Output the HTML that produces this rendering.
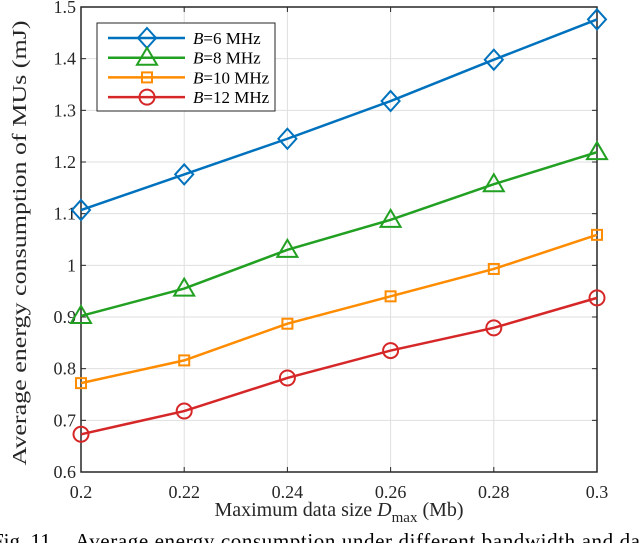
<!DOCTYPE html>
<html><head><meta charset="utf-8"><style>
body{margin:0;background:#fff;width:640px;height:543px;overflow:hidden}
svg{font-family:"Liberation Serif",serif}
</style></head><body>
<svg id="chart" width="640" height="543"></svg>
<script>
const xTicks=[0.2,0.22,0.24,0.26,0.28,0.3];
const xTickLabels=["0.2","0.22","0.24","0.26","0.28","0.3"];
const yTicks=[0.6,0.7,0.8,0.9,1.0,1.1,1.2,1.3,1.4,1.5];
const yTickLabels=["0.6","0.7","0.8","0.9","1","1.1","1.2","1.3","1.4","1.5"];
const xValues=[0.2,0.22,0.24,0.26,0.28,0.3];
const seriesB6=[1.107,1.176,1.245,1.318,1.398,1.476];
const seriesB8=[0.902,0.955,1.030,1.088,1.157,1.219];
const seriesB10=[0.772,0.816,0.887,0.940,0.993,1.059];
const seriesB12=[0.673,0.718,0.782,0.835,0.879,0.937];
const seriesNames=["B=6 MHz","B=8 MHz","B=10 MHz","B=12 MHz"];

const NS="http://www.w3.org/2000/svg";
const svg=document.getElementById('chart');
const L=81,R=597,T=7,B=472;
const xs=v=>L+(v-0.2)/(0.1)*(R-L);
const ys=v=>B-(v-0.6)/(0.9)*(B-T);
function mk(tag,at,parent){const e=document.createElementNS(NS,tag);for(const k in at)e.setAttribute(k,at[k]);(parent||svg).appendChild(e);return e;}

xTicks.forEach((v,i)=>{
 const g=mk('line',{x1:xs(v),x2:xs(v),y1:T,y2:B,stroke:'#dfdfdf','stroke-width':1});
 
 
 const t=mk('text',{x:xs(v),y:B+26,'text-anchor':'middle','font-size':18,fill:'#262626'});
 t.textContent=xTickLabels[i];
 
 
 mk('line',{x1:xs(v),x2:xs(v),y1:B,y2:B-5,stroke:'#262626'});
 mk('line',{x1:xs(v),x2:xs(v),y1:T,y2:T+5,stroke:'#262626'});
});
yTicks.forEach((v,i)=>{
 const g=mk('line',{x1:L,x2:R,y1:ys(v),y2:ys(v),stroke:'#dfdfdf','stroke-width':1});
 
 
 const t=mk('text',{x:L-5,y:ys(v)+6,'text-anchor':'end','font-size':18,fill:'#262626'});
 t.textContent=yTickLabels[i];
 
 
 mk('line',{x1:L,x2:L+5,y1:ys(v),y2:ys(v),stroke:'#262626'});
 mk('line',{x1:R,x2:R-5,y1:ys(v),y2:ys(v),stroke:'#262626'});
});
const frame=mk('rect',{x:L,y:T,width:R-L,height:B-T,fill:'none',stroke:'#262626','stroke-width':1.5});



function marker(type,x,y,c,p){
 if(type==='d') return mk('polygon',{points:`${x},${y-10} ${x+9},${y} ${x},${y+10} ${x-9},${y}`,fill:'none',stroke:c,'stroke-width':2},p);
 if(type==='t') return mk('polygon',{points:`${x},${y-10} ${x+10},${y+7} ${x-10},${y+7}`,fill:'none',stroke:c,'stroke-width':2},p);
 if(type==='s') return mk('rect',{x:x-5,y:y-5,width:10,height:10,fill:'none',stroke:c,'stroke-width':2},p);
 return mk('circle',{cx:x,cy:y,r:7.5,fill:'none',stroke:c,'stroke-width':2},p);
}
const all=[[seriesB6,'#0072BD','d','series-b6'],[seriesB8,'#22A022','t','series-b8'],[seriesB10,'#FF8C00','s','series-b10'],[seriesB12,'#D62728','o','series-b12']];
all.forEach(([d,c,m,n])=>{
 const g=mk('g',{});
 
 
 mk('polyline',{points:d.map((v,i)=>xs(xValues[i])+','+ys(v)).join(' '),fill:'none',stroke:c,'stroke-width':2.5},g);
 d.forEach((v,i)=>marker(m,xs(xValues[i]),ys(v),c,g));
});

const lg=mk('g',{});


mk('rect',{x:97,y:23,width:178,height:88,fill:'#fff',stroke:'#262626','stroke-width':1},lg);
all.forEach(([d,c,m,n],i)=>{
 const y=38+i*19.7;
 const e=mk('g',{},lg);
 
 
 mk('line',{x1:108,x2:185,y1:y,y2:y,stroke:c,'stroke-width':2.5},e);
 marker(m,147,y,c,e);
 const t=mk('text',{x:193,y:y+6,'font-size':17,fill:'#000'},e);
 const parts=seriesNames[i].split('=');
 const it=mk('tspan',{'font-style':'italic'},t);it.textContent=parts[0];
 const r=mk('tspan',{},t);r.textContent='='+parts[1];
});

const xl=mk('text',{x:339,y:516,'text-anchor':'middle','font-size':20,fill:'#262626'});


xl.innerHTML='Maximum data size  <tspan font-style="italic">D</tspan><tspan font-size="15" dy="6">max</tspan><tspan dy="-6"> (Mb)</tspan>';
const yl=mk('text',{x:0,y:0,'text-anchor':'middle','font-size':20,fill:'#262626',textLength:445,lengthAdjust:'spacingAndGlyphs',transform:'translate(26,243) rotate(-90)'});


yl.textContent='Average energy consumption of MUs (mJ)';
const cap1=mk('text',{x:-8,y:548,'font-size':21,fill:'#000'});


cap1.textContent='Fig.  11.';
const cap=mk('text',{x:75,y:548,'font-size':21,fill:'#000',textLength:565,lengthAdjust:'spacing'});


cap.textContent='Average energy consumption under different bandwidth and da';
</script>
</body></html>
